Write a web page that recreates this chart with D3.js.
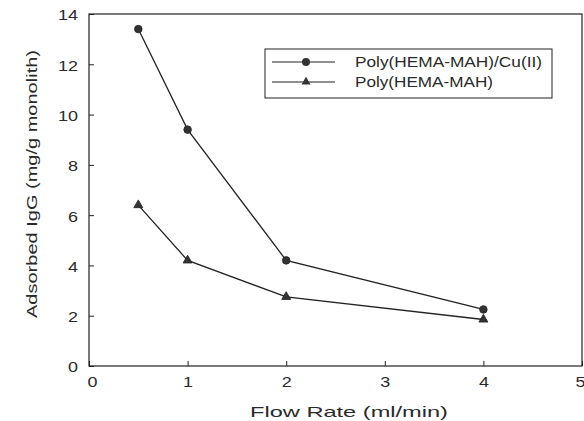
<!DOCTYPE html>
<html>
<head>
<meta charset="utf-8">
<script src="https://cdn.jsdelivr.net/npm/d3@7"></script>
<style>
  body { margin: 0; background: #fff; }
  text { font-family: "Liberation Sans", Arial, sans-serif; fill: #2a2a2a; }
</style>
</head>
<body>
<div id="chart"></div>
<script>
// flow rate (ml/min)
var flowRates = [0.5, 1, 2, 4];
var cuValues = [13.4, 9.4, 4.2, 2.25];
var plainValues = [6.4, 4.2, 2.75, 1.85];
var seriesNames = ["Poly(HEMA-MAH)/Cu(II)", "Poly(HEMA-MAH)"];
var xTicks = [0, 1, 2, 3, 4, 5];
var yTicks = [0, 2, 4, 6, 8, 10, 12, 14];

var width = 584, height = 421;
var margin = { top: 14, right: 2, bottom: 55, left: 89 };

var svg = d3.select("#chart").append("svg")
  .attr("width", width)
  .attr("height", height);

var x = d3.scaleLinear().domain([0, 5]).range([margin.left, width - margin.right]);
var y = d3.scaleLinear().domain([0, 14]).range([height - margin.bottom, margin.top]);

// frame
svg.append("rect")
  .attr("x", x(0)).attr("y", y(14))
  .attr("width", x(5) - x(0)).attr("height", y(0) - y(14))
  .attr("fill", "none").attr("stroke", "#222").attr("stroke-width", 1.2);

// axes with inward ticks
var xAxis = svg.append("g")
  .attr("transform", "translate(0," + y(0) + ")")
  .call(d3.axisBottom(x).tickValues(xTicks).tickSize(-5).tickPadding(11).tickFormat(d3.format("d")));
var yAxis = svg.append("g")
  .attr("transform", "translate(" + x(0) + ",0)")
  .call(d3.axisLeft(y).tickValues(yTicks).tickSize(-5).tickPadding(11).tickFormat(d3.format("d")));

// the scanned labels are wide, so stretch the glyphs a bit
[xAxis, yAxis].forEach(function(g) {
  g.select(".domain").remove();
  g.selectAll("line").attr("stroke", "#222");
  g.selectAll("text")
    .style("font-size", "14px")
    .attr("fill", "#2a2a2a")
    .attr("textLength", d => String(d).length * 10)
    .attr("lengthAdjust", "spacingAndGlyphs");
});
xAxis.selectAll("text").attr("dx", d => d === 0 ? 3 : (d === 5 ? -2 : 0));
yAxis.selectAll("text").attr("dy", "0.42em");

var line = d3.line().x(d => x(d[0])).y(d => y(d[1]));
var cuData = flowRates.map((f, i) => [f, cuValues[i]]);
var plainData = flowRates.map((f, i) => [f, plainValues[i]]);

function drawSeries(data, shape) {
  svg.append("path").datum(data)
    .attr("d", line)
    .attr("fill", "none").attr("stroke", "#222").attr("stroke-width", 1.3);
  svg.append("g").selectAll("path")
    .data(data).join("path")
    .attr("transform", d => "translate(" + x(d[0]) + "," + y(d[1]) + ")")
    .attr("d", d3.symbol().type(shape).size(shape === d3.symbolCircle ? 45 : 35))
    .attr("fill", "#333").attr("stroke", "#222").attr("stroke-width", 0.8);
}
drawSeries(cuData, d3.symbolCircle);
drawSeries(plainData, d3.symbolTriangle);

// legend
var legend = svg.append("g");
legend.append("rect")
  .attr("x", 265).attr("y", 49).attr("width", 287).attr("height", 49)
  .attr("fill", "#fff").attr("stroke", "#222").attr("stroke-width", 1);
var shapes = [d3.symbolCircle, d3.symbolTriangle];
var legendWidths = [187, 138];
seriesNames.forEach(function(name, i) {
  var ly = 62 + i * 20;
  legend.append("line")
    .attr("x1", 272).attr("x2", 335).attr("y1", ly).attr("y2", ly)
    .attr("stroke", "#222").attr("stroke-width", 1.2);
  legend.append("path")
    .attr("transform", "translate(306," + ly + ")")
    .attr("d", d3.symbol().type(shapes[i]).size(i === 0 ? 50 : 35))
    .attr("fill", "#333");
  legend.append("text")
    .attr("x", 355).attr("y", ly + 5)
    .style("font-size", "14px")
    .attr("textLength", legendWidths[i])
    .attr("lengthAdjust", "spacingAndGlyphs")
    .text(name);
});

// axis titles
svg.append("text")
  .attr("x", 250).attr("y", 417)
  .style("font-size", "15px")
  .attr("textLength", 198)
  .attr("lengthAdjust", "spacingAndGlyphs")
  .text("Flow  Rate (ml/min)");
svg.append("text")
  .attr("transform", "translate(37,318) rotate(-90)")
  .style("font-size", "15px")
  .attr("textLength", 268)
  .attr("lengthAdjust", "spacingAndGlyphs")
  .text("Adsorbed IgG (mg/g monolith)");
</script>
</body>
</html>
